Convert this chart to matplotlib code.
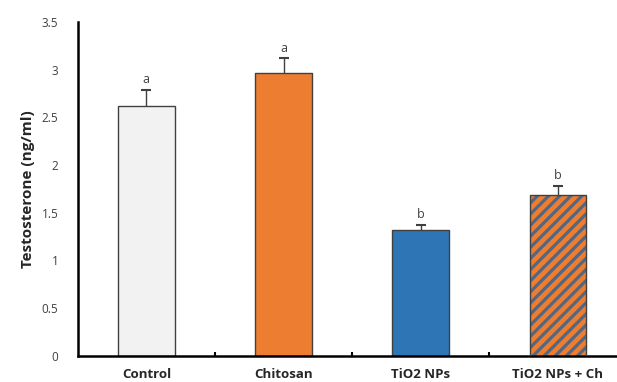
import matplotlib
matplotlib.use("Agg")
import matplotlib.pyplot as plt
import numpy as np

plt.rcParams['font.family'] = ['Open Sans', 'DejaVu Sans']
plt.rcParams['hatch.linewidth'] = 2.3

groups = ["Control", "Chitosan", "TiO2 NPs", "TiO2 NPs + Ch"]
means = [2.62, 2.97, 1.32, 1.69]
errors = [0.17, 0.15, 0.05, 0.09]
letters = ["a", "a", "b", "b"]
y_ticks = [0, 0.5, 1, 1.5, 2, 2.5, 3, 3.5]
y_tick_labels = ["0", "0.5", "1", "1.5", "2", "2.5", "3", "3.5"]

fills = ["#F2F2F2", "#ED7D31", "#2E75B6", "#ED7D31"]
hatches = [None, None, None, "///"]
hatch_color = "#55667F"

fig = plt.figure(figsize=(6.17, 3.82), dpi=100)
ax = fig.add_axes([0.126, 0.069, 0.874, 0.873])

x = np.arange(len(groups))
width = 0.415
means_arr = np.array(means)
errors_arr = np.array(errors)

for xi, m, f, h in zip(x, means, fills, hatches):
    if h:
        ax.bar(xi, m, width, color=f, edgecolor=hatch_color, hatch=h,
               linewidth=0, zorder=2)
        ax.bar(xi, m, width, fill=False, edgecolor="#404040",
               linewidth=1.0, zorder=3)
    else:
        ax.bar(xi, m, width, color=f, edgecolor="#404040",
               linewidth=1.0, zorder=2)

# upper error whiskers with a short cap
ax.vlines(x, means_arr, means_arr + errors_arr, colors="#404040",
          linewidth=1.0, zorder=4)
ax.plot(x, means_arr + errors_arr, linestyle="none", marker="_",
        markersize=7, markeredgewidth=1.5, color="#404040", zorder=4)

for xi, m, e, t in zip(x, means, errors, letters):
    ax.text(xi, m + e + 0.04, t, ha="center", va="bottom", fontsize=9,
            color="#404040")

ax.set_ylim(0, 3.5)
ax.set_xlim(-0.5, 3.43)
ax.set_yticks(y_ticks)
ax.set_yticklabels(y_tick_labels, fontsize=8.5, color="#404040")
ax.tick_params(axis="y", length=0, pad=14)

ax.set_xticks(x)
ax.set_xticklabels(groups, fontsize=9.5, fontweight="bold", color="#262626")
ax.tick_params(axis="x", which="major", length=0, pad=9)
ax.set_xticks(x[:-1] + 0.5, minor=True)
ax.tick_params(axis="x", which="minor", direction="in", length=3,
               width=1.5, color="black")

ax.set_ylabel("Testosterone (ng/ml)", fontsize=11, fontweight="bold",
              color="#262626", labelpad=5)

for side in ("top", "right"):
    ax.spines[side].set_visible(False)
for side in ("left", "bottom"):
    ax.spines[side].set_linewidth(1.8)
    ax.spines[side].set_color("black")

fig.savefig("out.png", dpi=100)
